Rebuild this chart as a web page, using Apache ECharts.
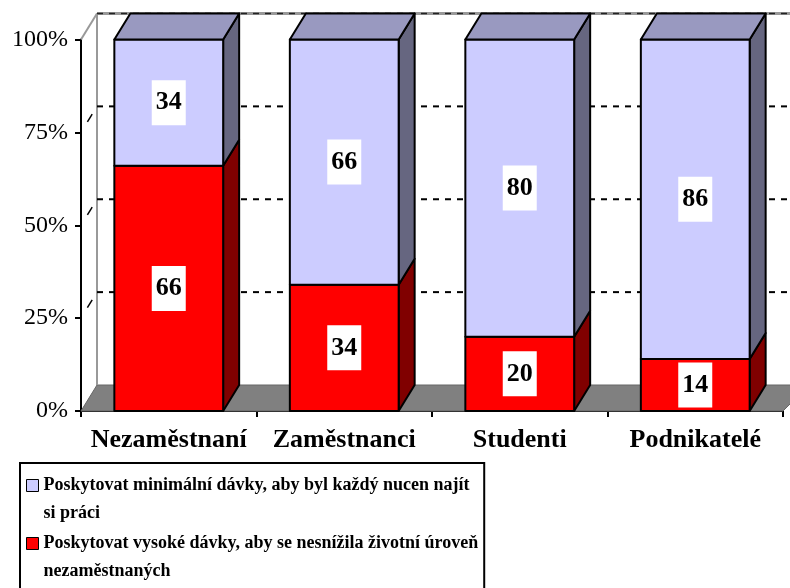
<!DOCTYPE html>
<html>
<head>
<meta charset="utf-8">
<script src="https://cdn.jsdelivr.net/npm/echarts@6/dist/echarts.min.js"></script>
<style>
  html, body { margin: 0; padding: 0; background: #ffffff; }
  #chart { width: 790px; height: 588px; }
</style>
</head>
<body>
<div id="chart"></div>
<script>
const categories = ['Nezaměstnaní', 'Zaměstnanci', 'Studenti', 'Podnikatelé']
const highBenefits = [66, 34, 20, 14]   // red, bottom part
const minBenefits = [34, 66, 80, 86]    // blue, top part
const yTicks = [0, 25, 50, 75, 100]
const seriesNames = [
  'Poskytovat minimální dávky, aby byl každý nucen najít si práci',
  'Poskytovat vysoké dávky, aby se nesnížila životní úroveň nezaměstnaných'
]
const legendLabels = [
  'Poskytovat minimální dávky, aby byl každý nucen najít\nsi práci',
  'Poskytovat vysoké dávky, aby se nesnížila životní úroveň\nnezaměstnaných'
]

// 3d depth offset of the bars / walls
const DX = 16
const DY = -26
const SERIF = '"Liberation Serif", "Times New Roman", serif'

const blue = { front: '#CCCCFF', top: '#9999C0', side: '#666680' }
const red = { front: '#FF0000', top: '#C00000', side: '#800000' }

function renderWalls (params, api) {
  const band = api.size([1, 0])[0]
  const left = api.coord([0, 0])[0] - band / 2
  const right = api.coord([categories.length - 1, 0])[0] + band / 2
  const y0 = api.coord([0, yTicks[0]])[1]
  const yTop = api.coord([0, yTicks[yTicks.length - 1]])[1]
  const children = []
  children.push({
    type: 'polygon',
    shape: { points: [[left, y0], [left + DX, y0 + DY], [right + DX + 10, y0 + DY], [right, y0]] },
    style: { fill: '#808080', stroke: '#666666', lineWidth: 1 }
  })
  children.push({
    type: 'line',
    shape: { x1: left + DX, y1: y0 + DY, x2: left + DX, y2: yTop + DY },
    style: { stroke: '#999999', lineWidth: 2 }
  })
  children.push({
    type: 'line',
    shape: { x1: left, y1: yTop, x2: left + DX, y2: yTop + DY },
    style: { stroke: '#999999', lineWidth: 2 }
  })
  children.push({
    type: 'line',
    shape: { x1: left + DX, y1: yTop + DY, x2: right + DX + 20, y2: yTop + DY },
    style: { stroke: '#999999', lineWidth: 3 }
  })
  children.push({
    type: 'line',
    shape: { x1: left + DX, y1: yTop + DY, x2: right + DX + 20, y2: yTop + DY },
    style: { stroke: '#222222', lineWidth: 1.5, lineDash: [6, 6] }
  })
  yTicks.slice(1, -1).forEach(v => {
    const y = api.coord([0, v])[1]
    children.push({
      type: 'line',
      shape: { x1: left + DX, y1: y + DY, x2: right + DX + 20, y2: y + DY },
      style: { stroke: '#000000', lineWidth: 2, lineDash: [6, 6] }
    })
    children.push({
      type: 'line',
      shape: { x1: left + DX * 0.4, y1: y + DY * 0.4, x2: left + DX * 0.7, y2: y + DY * 0.7 },
      style: { stroke: '#000000', lineWidth: 1.5 }
    })
  })
  return { type: 'group', children }
}

function makeBarRenderer (colors, isTop) {
  return function (params, api) {
    const idx = api.value(0)
    const pb = api.coord([idx, api.value(1)])
    const pt = api.coord([idx, api.value(2)])
    const w = api.size([1, 0])[0] * 0.62
    const x0 = pb[0] - w / 2
    const x1 = pb[0] + w / 2
    const yb = pb[1]
    const yt = pt[1]
    const edge = { stroke: '#000000', lineWidth: 2, lineJoin: 'round' }
    const children = [
      {
        type: 'polygon',
        shape: { points: [[x1, yb], [x1 + DX, yb + DY], [x1 + DX, yt + DY], [x1, yt]] },
        style: Object.assign({ fill: colors.side }, edge)
      },
      {
        type: 'rect',
        shape: { x: x0, y: yt, width: w, height: yb - yt },
        style: Object.assign({ fill: colors.front }, edge)
      }
    ]
    if (isTop) {
      children.push({
        type: 'polygon',
        shape: { points: [[x0, yt], [x0 + DX, yt + DY], [x1 + DX, yt + DY], [x1, yt]] },
        style: Object.assign({ fill: colors.top }, edge)
      })
    }
    children.push({
      type: 'text',
      x: pb[0],
      y: (yb + yt) / 2,
      style: {
        text: String(api.value(3)),
        fill: '#000000',
        fontFamily: SERIF,
        fontWeight: 'bold',
        fontSize: 26,
        lineHeight: 26,
        align: 'center',
        verticalAlign: 'middle',
        backgroundColor: '#ffffff',
        padding: [10, 4, 9, 4]
      }
    })
    return { type: 'group', children }
  }
}

const highData = categories.map((c, i) => [i, 0, highBenefits[i], highBenefits[i]])
const minData = categories.map((c, i) => [i, highBenefits[i], highBenefits[i] + minBenefits[i], minBenefits[i]])

const myChart = echarts.init(document.getElementById('chart'), null, { renderer: 'canvas' })

const option = {
  animation: false,
  backgroundColor: '#ffffff',
  grid: { left: 81, right: 7, top: 39.5, bottom: 177 },
  xAxis: {
    type: 'category',
    data: categories,
    axisLine: { lineStyle: { color: '#000000', width: 2 } },
    axisTick: { show: true, length: 6, lineStyle: { color: '#000000', width: 2 } },
    axisLabel: {
      interval: 0,
      color: '#000000',
      fontFamily: SERIF,
      fontWeight: 'bold',
      fontSize: 26,
      margin: 16
    },
    splitLine: { show: false }
  },
  yAxis: {
    type: 'value',
    min: yTicks[0],
    max: yTicks[yTicks.length - 1],
    interval: yTicks[1] - yTicks[0],
    axisLine: { show: true, lineStyle: { color: '#000000', width: 2 } },
    axisTick: { show: true, length: 6, lineStyle: { color: '#000000', width: 2 } },
    axisLabel: {
      color: '#000000',
      fontFamily: SERIF,
      fontSize: 24,
      margin: 13,
      formatter: '{value}%'
    },
    splitLine: { show: false }
  },
  legend: {
    data: seriesNames,
    orient: 'vertical',
    left: 20,
    top: 463,
    height: 200,
    padding: [8, 6, 8, 6],
    itemGap: 1,
    itemWidth: 12,
    itemHeight: 56,
    icon: 'path://M0,8h12v12h-12z M0,0h0.01 M0,56h0.01',
    itemStyle: { borderColor: '#000000', borderWidth: 1 },
    borderColor: '#000000',
    borderWidth: 2,
    formatter: name => legendLabels[seriesNames.indexOf(name)],
    textStyle: {
      color: '#000000',
      fontFamily: SERIF,
      fontWeight: 'bold',
      fontSize: 18,
      lineHeight: 28
    }
  },
  series: [
    {
      type: 'custom',
      name: 'walls',
      silent: true,
      z: 1,
      clip: false,
      data: [[0, 0]],
      renderItem: renderWalls
    },
    {
      type: 'custom',
      name: seriesNames[1],
      z: 3,
      itemStyle: { color: red.front },
      encode: { x: 0, y: [1, 2] },
      data: highData,
      renderItem: makeBarRenderer(red, false)
    },
    {
      type: 'custom',
      name: seriesNames[0],
      z: 3,
      itemStyle: { color: blue.front },
      encode: { x: 0, y: [1, 2] },
      data: minData,
      renderItem: makeBarRenderer(blue, true)
    }
  ]
}

myChart.setOption(option)
</script>
</body>
</html>
